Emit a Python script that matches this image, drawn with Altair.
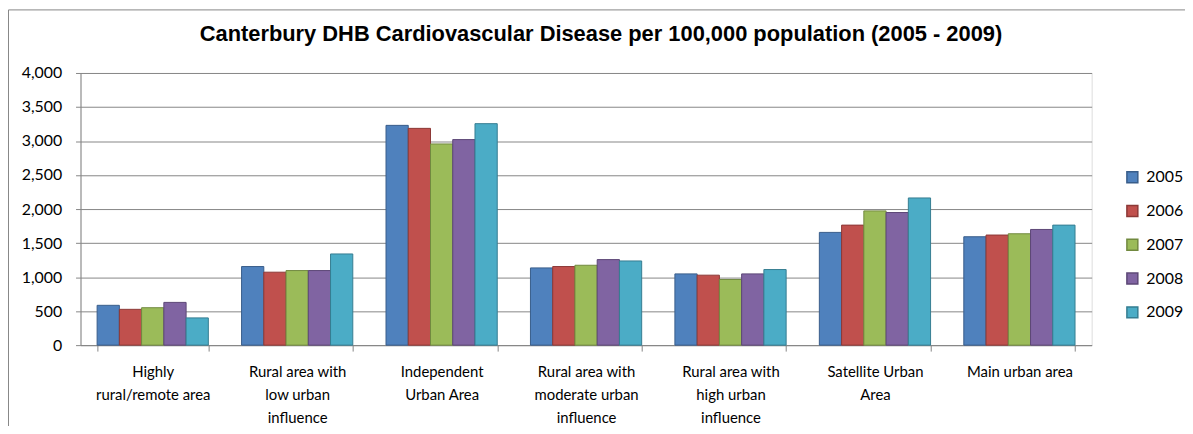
import altair as alt
import pandas as pd

TITLE = "Canterbury DHB Cardiovascular Disease per 100,000 population (2005 - 2009)"

CATEGORIES = [
    "Highly|rural/remote area",
    "Rural area with|low urban|influence",
    "Independent|Urban Area",
    "Rural area with|moderate urban|influence",
    "Rural area with|high urban|influence",
    "Satellite Urban|Area",
    "Main urban area",
]
YEARS = ["2005", "2006", "2007", "2008", "2009"]

V2005 = [585, 1155, 3230, 1135, 1047, 1657, 1593]
V2006 = [526, 1072, 3186, 1155, 1028, 1764, 1618]
V2007 = [550, 1096, 2957, 1174, 965, 1973, 1637]
V2008 = [628, 1096, 3021, 1257, 1047, 1949, 1700]
V2009 = [400, 1340, 3255, 1237, 1111, 2163, 1764]

FILLS = ["#4f81bd", "#c0504d", "#9bbb59", "#8064a2", "#4bacc6"]
STROKES = ["#385d8a", "#8c3836", "#71893f", "#5c4776", "#357d91"]

rows = []
for year, vals in zip(YEARS, [V2005, V2006, V2007, V2008, V2009]):
    for cat, v in zip(CATEGORIES, vals):
        rows.append({"area": cat, "year": year, "value": v})
df = pd.DataFrame(rows)

W, H = 1018, 274
FONT = "Lato"

legend_kw = dict(title=None, orient="none", legendX=1051, legendY=97,
                 symbolType="square", symbolSize=121,
                 labelFontSize=16, labelFont=FONT, labelColor="black",
                 rowPadding=16, labelOffset=6)

bars = alt.Chart(df).mark_bar(strokeWidth=1).encode(
    x=alt.X("area:N", sort=CATEGORIES, title=None,
            scale=alt.Scale(paddingInner=0.23, paddingOuter=0.115),
            axis=alt.Axis(labelAngle=0, labelExpr="split(datum.label, '|')",
                          tickBand="extent", tickSize=6, labelPadding=14,
                          labelLineHeight=23, labelFontSize=15, labelFont=FONT,
                          labelColor="black", domainColor="#868686",
                          tickColor="#868686", grid=False, labelBaseline="top")),
    xOffset=alt.XOffset("year:N", sort=YEARS, scale=alt.Scale(paddingInner=0, paddingOuter=0)),
    y=alt.Y("value:Q", title=None,
            scale=alt.Scale(domain=[0, 4000]),
            axis=alt.Axis(values=list(range(0, 4001, 500)), format=",.0f",
                          tickSize=5, labelPadding=14, labelFontSize=16, labelFont=FONT,
                          labelColor="black", domainColor="#868686", tickColor="#868686",
                          gridColor="#868686", gridWidth=1)),
    fill=alt.Fill("year:N", sort=YEARS, scale=alt.Scale(domain=YEARS, range=FILLS),
                  legend=alt.Legend(**legend_kw)),
    stroke=alt.Stroke("year:N", sort=YEARS, scale=alt.Scale(domain=YEARS, range=STROKES),
                      legend=alt.Legend(**legend_kw)),
)

one = pd.DataFrame({"f": [0]})
frame_left = alt.Chart(one).mark_rule(stroke="#868686", strokeWidth=1).encode(
    x=alt.value(-72.5), y=alt.value(-63.5), y2=alt.value(H + 110),
)
frame_top = alt.Chart(one).mark_rule(stroke="#868686", strokeWidth=1).encode(
    y=alt.value(-63.5), x=alt.value(-72.5), x2=alt.value(W + 110),
)

chart = alt.layer(frame_left, frame_top, bars).properties(
    width=W, height=H,
    title=alt.TitleParams(TITLE, font="Liberation Sans", fontSize=22, fontWeight="bold",
                          color="black", anchor="middle", frame="group", dx=15,
                          offset=-37),
    autosize=alt.AutoSizeParams(type="none"),
    padding={"left": 73, "top": 64, "right": 94, "bottom": 80},
).configure_view(fill="#e6e6e6", stroke=None).configure(background="white")

chart.save("out.html", embed_options={"renderer": "svg", "actions": False})
